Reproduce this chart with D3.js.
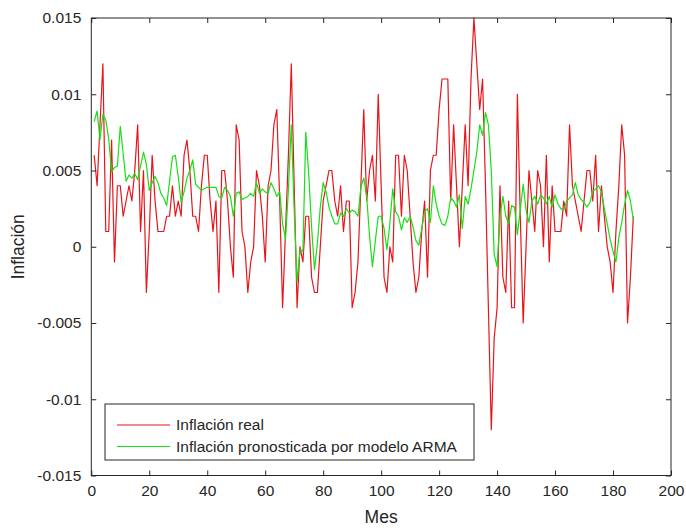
<!DOCTYPE html>
<html><head><meta charset="utf-8">
<script src="https://cdn.jsdelivr.net/npm/d3@7/dist/d3.min.js"></script>
<style>
body{margin:0;background:#fff}
svg text{font-family:"Liberation Sans",Arial,Helvetica,sans-serif;fill:#262626}
</style>
</head><body>
<svg id="chart" width="686" height="531"></svg>
<script>
// Inflación real (months 1..187)
const realInflation = [
0.006,0.004,0.008,0.012,0.001,0.001,0.007,-0.001,0.004,0.004,
0.002,0.003,0.004,0.003,0.005,0.008,0.001,0.005,-0.003,0.001,
0.006,0.003,0.001,0.001,0.001,0.002,0.002,0.004,0.002,0.003,
0.002,0.006,0.007,0.005,0.002,0.002,0.001,0.004,0.006,0.006,
0.003,0.001,0.003,-0.003,0.005,0.005,0.003,0.000,-0.002,0.008,
0.007,0.001,0.000,-0.003,-0.001,0.000,0.005,0.004,0.002,-0.001,
0.004,0.005,0.008,0.009,0.003,-0.004,0.001,0.006,0.012,0.004,
-0.004,0.000,-0.001,0.002,0.002,-0.002,-0.003,-0.003,0.000,0.003,
0.004,0.005,0.005,0.003,0.002,0.004,0.001,0.003,0.003,-0.004,
-0.003,-0.001,0.004,0.009,0.003,0.005,0.006,0.003,0.010,0.004,
-0.002,-0.003,0.000,-0.001,0.006,0.006,0.002,0.006,0.005,0.002,
-0.001,-0.003,-0.002,0.001,0.003,-0.002,0.005,0.006,0.006,0.009,
0.011,0.011,0.011,0.003,0.008,0.004,0.000,0.004,0.008,0.004,
0.011,0.015,0.012,0.009,0.011,0.004,-0.004,-0.012,-0.006,-0.004,
0.004,-0.002,-0.003,0.003,-0.004,-0.004,0.010,0.002,-0.005,0.000,
0.005,0.003,0.001,0.005,0.004,0.000,0.006,-0.001,0.004,0.001,
0.001,0.001,0.003,0.002,0.008,0.004,0.003,0.002,0.001,0.003,
0.005,0.005,0.003,0.006,0.001,0.004,0.002,0.000,-0.001,-0.003,
0.001,0.004,0.008,0.006,-0.005,-0.002,0.002
];
// Inflación pronosticada por modelo ARMA (months 1..187)
const armaForecast = [
0.0082,0.0089,0.0070,0.0087,0.0083,0.0071,0.0049,0.0052,0.0053,0.0079,
0.0061,0.0043,0.0047,0.0045,0.0048,0.0044,0.0053,0.0062,0.0054,0.0037,
0.0042,0.0046,0.0042,0.0035,0.0032,0.0027,0.0043,0.0059,0.0060,0.0046,
0.0029,0.0036,0.0045,0.0050,0.0057,0.0041,0.0039,0.0037,0.0038,0.0039,
0.0039,0.0039,0.0039,0.0033,0.0032,0.0039,0.0037,0.0033,0.0020,0.0035,
0.0036,0.0031,0.0032,0.0033,0.0035,0.0033,0.0042,0.0035,0.0038,0.0036,
0.0035,0.0042,0.0038,0.0033,0.0036,0.0015,0.0005,0.0037,0.0080,0.0024,
-0.0023,-0.0002,-0.0003,0.0075,0.0048,0.0013,-0.0015,0.0002,0.0026,0.0042,
0.0036,0.0026,0.0020,0.0015,0.0015,0.0022,0.0020,0.0025,0.0022,0.0024,
0.0023,0.0020,0.0039,0.0045,0.0033,0.0007,-0.0013,0.0004,0.0020,0.0020,
0.0012,-0.0002,0.0015,0.0038,0.0023,0.0020,0.0011,0.0019,0.0016,0.0020,
0.0013,0.0004,0.0001,0.0012,0.0023,0.0025,0.0016,0.0040,0.0028,0.0020,
0.0015,0.0014,0.0020,0.0032,0.0030,0.0026,0.0034,0.0012,0.0033,0.0028,
0.0038,0.0050,0.0062,0.0080,0.0073,0.0088,0.0080,0.0050,-0.0005,-0.0013,
0.0020,0.0033,0.0020,0.0015,0.0027,0.0026,0.0008,0.0024,0.0041,0.0024,
0.0016,0.0030,0.0033,0.0028,0.0034,0.0032,0.0028,0.0033,0.0026,0.0034,
0.0028,0.0025,0.0024,0.0030,0.0032,0.0034,0.0042,0.0034,0.0031,0.0029,
0.0026,0.0029,0.0036,0.0038,0.0040,0.0036,0.0025,0.0015,0.0005,-0.0003,
-0.0010,0.0006,0.0016,0.0028,0.0037,0.0030,0.0018
];
const months = realInflation.map((d, i) => i + 1);
const xTickValues = [0, 20, 40, 60, 80, 100, 120, 140, 160, 180, 200];
const yTickValues = [-0.015, -0.01, -0.005, 0, 0.005, 0.01, 0.015];
const seriesNames = ["Inflación real", "Inflación pronosticada por modelo ARMA"];
const seriesColors = ["#e8141a", "#16e016"];

const svg = d3.select("#chart");
svg.append("rect").attr("width", 686).attr("height", 531).attr("fill", "#fff");

const L = 91.3, R = 671, T = 18, B = 475.5;
const x = d3.scaleLinear().domain([0, 200]).range([L, R]);
const y = d3.scaleLinear().domain([-0.015, 0.015]).range([B, T]);
const axisColor = "#262626";
const fmtY = v => String(+v.toFixed(3));

// lines
const line = d3.line().x((d, i) => x(months[i])).y(d => y(d));
const g = svg.append("g");
g.append("path").datum(realInflation).attr("d", line)
  .attr("fill", "none").attr("stroke", seriesColors[0]).attr("stroke-width", 1.2).attr("stroke-linejoin", "round");
g.append("path").datum(armaForecast).attr("d", line)
  .attr("fill", "none").attr("stroke", seriesColors[1]).attr("stroke-width", 1.2).attr("stroke-linejoin", "round");

// axes
const styleAxis = sel => {
  sel.select(".domain").remove();
  sel.selectAll(".tick line").attr("stroke", axisColor);
  sel.selectAll(".tick text").attr("fill", axisColor).style("font-size", "15.5px");
};
svg.append("g").attr("transform", `translate(0,${B})`)
  .call(d3.axisBottom(x).tickValues(xTickValues).tickSizeInner(-5).tickSizeOuter(0).tickPadding(9))
  .call(styleAxis);
svg.append("g").attr("transform", `translate(0,${T})`)
  .call(d3.axisTop(x).tickValues(xTickValues).tickSizeInner(-5).tickSizeOuter(0).tickFormat(""))
  .call(styleAxis);
svg.append("g").attr("transform", `translate(${L},0)`)
  .call(d3.axisLeft(y).tickValues(yTickValues).tickSizeInner(-5).tickSizeOuter(0).tickPadding(10).tickFormat(fmtY))
  .call(styleAxis);
svg.append("g").attr("transform", `translate(${R},0)`)
  .call(d3.axisRight(y).tickValues(yTickValues).tickSizeInner(-5).tickSizeOuter(0).tickFormat(""))
  .call(styleAxis);

// frame
svg.append("rect").attr("x", L).attr("y", T).attr("width", R - L).attr("height", B - T)
  .attr("fill", "none").attr("stroke", axisColor).attr("stroke-width", 1);

// axis labels
svg.append("text").attr("x", (L + R) / 2).attr("y", 523).attr("text-anchor", "middle")
  .style("font-size", "17.5px").text("Mes");
svg.append("text").attr("transform", `translate(24,${(T + B) / 2}) rotate(-90)`)
  .attr("text-anchor", "middle").style("font-size", "17.5px").text("Inflación");

// legend
const lg = svg.append("g");
lg.append("rect").attr("x", 105).attr("y", 404).attr("width", 369).attr("height", 56)
  .attr("fill", "#fff").attr("stroke", axisColor).attr("stroke-width", 1);
seriesNames.forEach((name, i) => {
  const yy = 425 + i * 21.5;
  lg.append("line").attr("x1", 117).attr("x2", 170).attr("y1", yy).attr("y2", yy)
    .attr("stroke", seriesColors[i]).attr("stroke-width", 1.2);
  lg.append("text").attr("x", 176).attr("y", yy).attr("dy", "0.35em")
    .style("font-size", "15.5px").text(name);
});
</script>
</body></html>
